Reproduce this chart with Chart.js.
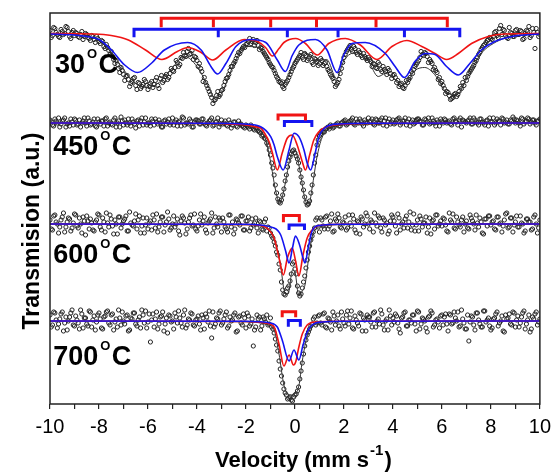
<!DOCTYPE html>
<html>
<head>
<meta charset="utf-8">
<script src="https://cdn.jsdelivr.net/npm/chart.js@4.4.0/dist/chart.umd.min.js"></script>
<style>
  html, body { margin: 0; padding: 0; background: #fff; }
  #chart { display: block; }
</style>
</head>
<body>
<canvas id="chart" width="557" height="472"></canvas>
<script>
// velocity channels (mm/s)
const velocity = [
  -10,-9.9,-9.8,-9.7,-9.6,-9.5,-9.4,-9.3,-9.2,-9.1,-9,
  -8.9,-8.8,-8.7,-8.6,-8.5,-8.4,-8.3,-8.2,-8.1,-8,
  -7.9,-7.8,-7.7,-7.6,-7.5,-7.4,-7.3,-7.2,-7.1,-7,
  -6.9,-6.8,-6.7,-6.6,-6.5,-6.4,-6.3,-6.2,-6.1,-6,
  -5.9,-5.8,-5.7,-5.6,-5.5,-5.4,-5.3,-5.2,-5.1,-5,
  -4.9,-4.8,-4.7,-4.6,-4.5,-4.4,-4.3,-4.2,-4.1,-4,
  -3.9,-3.8,-3.7,-3.6,-3.5,-3.4,-3.3,-3.2,-3.1,-3,
  -2.9,-2.8,-2.7,-2.6,-2.5,-2.4,-2.3,-2.2,-2.1,-2,
  -1.9,-1.8,-1.7,-1.6,-1.5,-1.4,-1.3,-1.2,-1.1,-1,
  -0.9,-0.8,-0.7,-0.6,-0.5,-0.4,-0.3,-0.2,-0.1,0,
  0.1,0.2,0.3,0.4,0.5,0.6,0.7,0.8,0.9,1,
  1.1,1.2,1.3,1.4,1.5,1.6,1.7,1.8,1.9,2,
  2.1,2.2,2.3,2.4,2.5,2.6,2.7,2.8,2.9,3,
  3.1,3.2,3.3,3.4,3.5,3.6,3.7,3.8,3.9,4,
  4.1,4.2,4.3,4.4,4.5,4.6,4.7,4.8,4.9,5,
  5.1,5.2,5.3,5.4,5.5,5.6,5.7,5.8,5.9,6,
  6.1,6.2,6.3,6.4,6.5,6.6,6.7,6.8,6.9,7,
  7.1,7.2,7.3,7.4,7.5,7.6,7.7,7.8,7.9,8,
  8.1,8.2,8.3,8.4,8.5,8.6,8.7,8.8,8.9,9,
  9.1,9.2,9.3,9.4,9.5,9.6,9.7,9.8,9.9,10
];
// the interleaved channels between them
const velocityHalf = [
  -9.95,-9.85,-9.75,-9.65,-9.55,-9.45,-9.35,-9.25,-9.15,-9.05,
  -8.95,-8.85,-8.75,-8.65,-8.55,-8.45,-8.35,-8.25,-8.15,-8.05,
  -7.95,-7.85,-7.75,-7.65,-7.55,-7.45,-7.35,-7.25,-7.15,-7.05,
  -6.95,-6.85,-6.75,-6.65,-6.55,-6.45,-6.35,-6.25,-6.15,-6.05,
  -5.95,-5.85,-5.75,-5.65,-5.55,-5.45,-5.35,-5.25,-5.15,-5.05,
  -4.95,-4.85,-4.75,-4.65,-4.55,-4.45,-4.35,-4.25,-4.15,-4.05,
  -3.95,-3.85,-3.75,-3.65,-3.55,-3.45,-3.35,-3.25,-3.15,-3.05,
  -2.95,-2.85,-2.75,-2.65,-2.55,-2.45,-2.35,-2.25,-2.15,-2.05,
  -1.95,-1.85,-1.75,-1.65,-1.55,-1.45,-1.35,-1.25,-1.15,-1.05,
  -0.95,-0.85,-0.75,-0.65,-0.55,-0.45,-0.35,-0.25,-0.15,-0.05,
  0.05,0.15,0.25,0.35,0.45,0.55,0.65,0.75,0.85,0.95,
  1.05,1.15,1.25,1.35,1.45,1.55,1.65,1.75,1.85,1.95,
  2.05,2.15,2.25,2.35,2.45,2.55,2.65,2.75,2.85,2.95,
  3.05,3.15,3.25,3.35,3.45,3.55,3.65,3.75,3.85,3.95,
  4.05,4.15,4.25,4.35,4.45,4.55,4.65,4.75,4.85,4.95,
  5.05,5.15,5.25,5.35,5.45,5.55,5.65,5.75,5.85,5.95,
  6.05,6.15,6.25,6.35,6.45,6.55,6.65,6.75,6.85,6.95,
  7.05,7.15,7.25,7.35,7.45,7.55,7.65,7.75,7.85,7.95,
  8.05,8.15,8.25,8.35,8.45,8.55,8.65,8.75,8.85,8.95,
  9.05,9.15,9.25,9.35,9.45,9.55,9.65,9.75,9.85,9.95
];

const temperatures = ['30', '450', '600', '700'];
// baseline of each spectrum on the (a.u.) transmission axis
const offsets = [370.5, 281, 180, 83];

// measured transmission relative to baseline (a.u.)
const t30 = [
  3,-2,5,-1,-4,2,0,6,-3,1,-2,
  0,-4,2,-3,-1,-5,-2,-6,-3,-8,
  -7,-13,-11,-17,-18,-26,-27,-35,-34,-41,
  -43,-46,-50,-45,-52,-49,-55,-51,-48,-56,
  -50,-54,-47,-52,-45,-49,-43,-46,-40,-37,
  -34,-29,-31,-25,-22,-18,-21,-17,-23,-27,
  -30,-38,-44,-52,-58,-64,-67,-62,-63,-57,
  -52,-45,-41,-33,-30,-25,-19,-17,-13,-11,
  -8,-10,-6,-9,-12,-14,-18,-22,-26,-31,
  -34,-40,-45,-49,-53,-51,-47,-41,-35,-30,
  -26,-22,-24,-20,-27,-23,-29,-25,-28,-30,
  -27,-30,-33,-38,-43,-48,-51,-46,-35,-24,
  -18,-14,-16,-13,-19,-17,-22,-20,-25,-24,
  -28,-30,-34,-29,-36,-33,-38,-35,-40,-42,
  -44,-47,-51,-54,-52,-49,-44,-40,-33,-29,
  -24,-21,-19,-23,-26,-30,-34,-39,-44,-48,
  -55,-58,-62,-65,-61,-63,-58,-55,-52,-47,
  -40,-36,-32,-27,-21,-16,-12,-9,-6,-5,
  -3,2,-4,8,4,-2,-5,1,-3,3,
  -1,3,-6,0,2,-4,5,-15,1,-1
];
const t30Half = [
  -4,6,1,-3,4,-1,7,2,-5,3,
  1,-3,-1,-6,0,-4,-7,-3,-9,-5,
  -10,-8,-15,-14,-21,-23,-30,-31,-39,-37,
  -47,-42,-53,-48,-44,-56,-50,-53,-46,-52,
  -53,-48,-51,-44,-55,-42,-47,-41,-44,-35,
  -38,-27,-33,-24,-19,-23,-15,-20,-26,-24,
  -33,-35,-48,-49,-55,-61,-70,-66,-58,-61,
  -56,-48,-44,-37,-33,-28,-22,-20,-15,-14,
  -10,-5,-8,-12,-7,-16,-15,-20,-24,-29,
  -33,-37,-43,-48,-50,-55,-49,-44,-38,-33,
  -28,-24,-19,-26,-22,-25,-21,-31,-26,-32,
  -25,-32,-29,-36,-41,-45,-53,-49,-40,-29,
  -21,-16,-12,-18,-15,-21,-19,-24,-23,-27,
  -26,-33,-31,-35,-31,-38,-36,-41,-37,-45,
  -41,-49,-53,-50,-55,-47,-46,-38,-36,-31,
  -27,-18,-22,-20,-29,-28,-36,-37,-46,-50,
  -52,-60,-59,-66,-64,-60,-61,-53,-49,-44,
  -43,-38,-34,-29,-24,-19,-14,-11,-7,-4,
  -6,1,-2,5,-1,3,-4,6,0,-3,
  4,-1,2,-5,3,7,-2,1,5,-3
];
const t450 = [
  3,-2,4,0,-4,2,5,-1,-3,1,4,
  -2,3,0,5,-3,2,-1,4,-4,1,
  2,-3,5,0,-1,3,-4,2,6,-2,
  0,4,-3,1,-5,3,2,-2,5,0,
  -3,2,4,-1,0,-4,3,1,-2,5,
  1,-3,2,6,-2,0,4,-4,1,3,
  -1,4,0,-3,2,5,-2,1,-4,3,
  0,-2,3,-5,1,-3,2,-1,-4,-2,
  -4,-2,-6,-5,-8,-10,-12,-16,-22,-32,
  -45,-62,-76,-80,-72,-58,-44,-34,-28,-30,
  -36,-47,-60,-74,-82,-78,-62,-40,-22,-13,
  -8,-9,-5,-6,-3,-4,-1,-3,0,2,
  -2,1,3,-1,4,0,2,-3,1,5,
  2,-1,4,0,3,-2,5,1,-1,3,
  0,4,-2,2,5,1,-3,3,0,4,
  2,-2,4,1,-1,5,0,3,-3,2,
  4,0,2,-2,5,1,3,-4,2,0,
  3,-1,5,1,-2,4,0,2,-3,1,
  5,0,2,-2,4,1,-1,3,6,0,
  2,-3,4,1,5,-1,3,0,2,4
];
const t450Half = [
  1,-3,2,5,-1,3,-4,0,4,-2,
  3,-1,-4,2,0,5,-2,1,-3,4,
  -1,2,4,-3,1,-2,5,0,-4,2,
  3,-2,0,4,-1,2,-3,5,1,-2,
  0,4,-2,1,3,-4,2,-1,4,0,
  -2,3,1,-3,5,0,-1,2,-4,3,
  2,-1,4,-2,0,3,-3,1,5,-1,
  -1,2,-3,0,-2,1,-4,-1,-3,-5,
  -3,-6,-4,-7,-5,-9,-13,-15,-20,-27,
  -40,-52,-70,-79,-77,-66,-52,-38,-31,-27,
  -33,-40,-54,-67,-79,-81,-70,-52,-32,-17,
  -11,-9,-6,-4,-2,-5,-2,0,-3,1,
  3,-1,2,5,-2,1,4,-1,3,0,
  1,4,-2,3,0,5,2,-3,4,1,
  -1,3,5,0,2,-2,4,1,-1,3,
  4,1,-2,3,5,0,2,-3,1,4,
  0,3,1,-1,4,2,-2,5,3,1,
  2,5,-1,3,0,4,1,-2,3,5,
  1,-2,4,2,5,0,3,-1,2,4,
  3,0,5,-1,2,4,1,3,-2,2
];
const t600 = [
  4,-6,9,0,-3,7,-8,2,5,-4,10,
  -2,6,-9,3,8,-5,1,-7,4,9,
  -6,2,11,-3,5,-10,0,7,-4,3,
  8,-7,1,-2,10,4,-9,6,-1,-5,
  3,9,-4,-8,2,7,-1,12,-6,0,
  -3,5,-11,8,1,-5,6,-2,10,-7,
  4,-1,7,-9,3,11,-4,0,6,-8,
  2,-5,9,-3,-10,5,1,8,-6,3,
  7,-4,-1,6,-9,2,-6,5,-3,-9,
  -14,-22,-31,-46,-66,-71,-64,-57,-40,-45,
  -62,-72,-64,-52,-36,-22,-12,-4,6,-8,
  4,-5,8,-2,10,-7,3,6,-4,1,
  -6,9,-2,5,-9,2,7,-3,11,0,
  4,-8,1,8,-4,6,-1,-10,3,7,
  -2,10,-6,2,5,-4,12,-1,-7,4,
  8,-3,1,-9,6,3,-5,9,0,-2,
  5,-7,11,2,-4,7,-1,4,-8,3,
  -5,6,0,9,-3,2,-10,5,8,-1,
  3,-6,7,1,-2,10,-4,6,-8,2,
  -3,8,0,-7,5,2,-5,9,-9,4
];
const t600Half = [
  -5,8,2,-9,4,11,-3,6,-7,1,
  9,-4,0,7,-11,3,5,-6,2,10,
  -3,6,-8,1,9,-2,4,-10,7,0,
  5,-7,12,-1,3,-5,8,-2,-9,6,
  1,-6,4,10,-3,7,-8,2,5,-4,
  8,0,-7,3,6,-10,2,9,-1,-5,
  -2,10,3,-6,1,5,-9,7,-3,4,
  6,-3,-8,9,2,-5,4,-1,8,-6,
  3,-7,5,1,-4,3,-5,2,-7,-4,
  -12,-18,-28,-40,-58,-70,-68,-62,-50,-38,
  -50,-69,-70,-58,-44,-28,-16,-8,4,-3,
  6,-2,7,-5,3,-8,5,10,-3,2,
  7,-4,1,9,-6,3,-10,5,0,8,
  -5,2,11,-2,6,-8,4,1,-7,9,
  3,-9,6,0,-4,8,2,-6,10,-1,
  -7,5,1,7,-3,-10,4,9,-2,3,
  6,-1,-8,4,10,-5,2,-3,7,0,
  -4,9,3,-6,1,6,-9,5,-2,8,
  2,-5,7,0,-8,4,11,-3,6,-1,
  8,-3,1,-9,5,2,-6,7,0,-4
];
const t700 = [
  6,-4,8,-7,2,9,-2,-9,4,11,-5,
  1,-8,7,3,-3,10,-6,5,-1,8,
  -7,4,9,-2,6,-9,2,11,-4,0,
  5,-10,3,8,-3,1,-7,6,10,-1,
  -21,7,2,-8,4,9,-3,-12,5,0,
  8,-2,3,-6,11,-4,1,7,-5,2,
  -3,6,-8,4,10,-17,-6,3,8,-4,
  2,9,-5,0,6,-11,4,-2,7,-7,
  5,-3,-25,-6,2,-9,4,-1,-4,3,
  -8,-18,-30,-48,-62,-72,-78,-76,-80,-74,
  -70,-58,-42,-25,-14,-8,-3,4,-2,6,
  -4,8,-7,2,-9,5,0,-5,9,-2,
  6,-3,10,-8,1,-5,7,3,-10,4,
  -1,8,-6,2,11,-4,0,-9,5,3,
  7,-2,-12,4,9,-5,1,6,-3,10,
  -8,3,0,-11,5,8,-4,2,-7,6,
  4,-3,7,-3,9,0,-6,11,-2,-8,
  -20,5,-4,8,1,-6,10,-1,3,-9,
  2,7,-5,0,-10,6,3,-3,9,-6,
  5,-2,8,-8,1,-11,4,7,-4,2
];
const t700Half = [
  -6,9,1,-3,7,-10,4,0,8,-4,
  5,-2,11,-7,3,-5,9,1,-9,6,
  2,-8,5,10,-4,7,-1,-6,3,9,
  -3,6,-9,2,8,-5,4,11,-2,-7,
  7,1,-6,9,-3,5,-10,3,6,-1,
  -8,4,10,-2,6,-7,2,8,-4,1,
  5,-9,3,7,-1,-5,9,-3,2,10,
  -2,6,-7,4,1,8,-10,5,-4,3,
  8,-5,2,-9,6,4,-5,2,6,-3,
  -6,-12,-24,-40,-55,-68,-74,-77,-79,-76,
  -73,-66,-50,-33,-19,-11,-5,2,-4,5,
  -2,7,-6,3,-1,9,-4,6,-8,2,
  -5,10,3,-7,5,-2,8,-10,1,6,
  4,-6,9,0,-3,7,-9,2,11,-4,
  -1,5,-8,3,8,-5,1,-2,6,-10,
  9,-3,2,-7,4,10,-6,1,-1,5,
  -4,7,-10,6,-2,3,9,-5,2,-8,
  6,-1,4,-9,8,-3,-6,10,1,-5,
  -7,3,9,-2,5,-11,2,7,-4,8,
  1,-6,4,10,-3,6,-8,2,9,-1
];

// fitted subspectra: [velocity, depth below baseline]
const red30 = [[-10,0],[-8.2,0.5],[-7.5,2],[-6.8,6.5],[-6.1,16.5],[-5.43,26],[-4.8,18],[-4.38,14],[-3.83,19],[-3.36,26.5],[-2.82,16.5],[-2.07,6],[-1.53,8],[-1.2,14],[-0.92,22.5],[-0.65,15],[-0.45,9],[0.03,5],[0.43,10],[0.91,21.5],[1.38,10],[2.06,5],[2.67,11.5],[3.35,26],[3.96,13],[4.57,7],[5.18,13],[5.72,20],[6.19,26],[6.67,20],[7.21,10],[7.89,3],[8.57,0.5],[10,0]];
const blue30 = [[-10,0.5],[-9,1.5],[-8.5,3],[-8,6],[-7.49,16.5],[-6.95,31.5],[-6.43,39],[-5.87,30],[-5.33,16.5],[-4.38,9],[-3.83,16.5],[-3.43,33],[-3.16,40.5],[-2.82,30],[-2.41,13],[-1.8,6],[-1.19,9],[-0.72,26.5],[-0.39,38],[-0.11,22],[0.16,11.5],[0.84,6],[1.31,16.5],[1.72,39],[1.99,21.5],[2.33,10],[2.87,9],[3.69,20],[4.09,33],[4.47,44],[4.9,28],[5.31,20],[5.72,21],[6.19,33],[6.67,41.5],[7.14,30],[7.61,16.5],[8.16,8],[8.97,2.5],[10,0.5]];
const sum30 = [[-10,0.5],[-9,1.5],[-8,7],[-7.5,18.5],[-7,36],[-6.5,50],[-6,54],[-5.5,48],[-5,34],[-4.5,23],[-4,33],[-3.5,55],[-3.25,66],[-3,60],[-2.5,31],[-2,13],[-1.5,14],[-1,31],[-0.7,43],[-0.4,47],[0,27],[0.4,19],[0.9,27],[1.3,26],[1.7,45],[2,27],[2.5,19],[3,28],[3.4,43],[3.7,40],[4.1,46],[4.47,51],[4.9,37],[5.3,34],[5.7,41],[6.2,59],[6.6,61],[7.1,41],[7.6,20],[8.1,10],[8.6,4.5],[9,2.5],[10,0.5]];

const red450 = [[-10,0],[-3,0.5],[-2.6,1],[-2,2],[-1.6,4],[-1.4,5],[-1.22,11],[-1.05,19],[-0.92,30],[-0.72,47],[-0.52,30],[-0.31,15],[-0.11,12],[0.09,22],[0.3,38.7],[0.43,47],[0.6,32],[0.77,17],[0.98,8.7],[1.25,4.3],[1.92,1.3],[3,0.5],[10,0]];
const blue450 = [[-10,0],[-3,0.3],[-2.07,1],[-1.4,3.7],[-0.99,13.7],[-0.85,22],[-0.72,33.7],[-0.48,47],[-0.24,27],[-0.04,10.3],[0.16,13.7],[0.37,27],[0.5,40],[0.64,47],[0.81,32],[0.98,13.7],[1.25,4.3],[1.79,1],[3,0.3],[10,0]];
const sum450 = [[-10,0],[-3,1],[-2,3],[-1.4,9],[-1.2,16],[-1,38],[-0.8,66],[-0.62,80],[-0.4,61],[-0.2,35],[0,27],[0.2,47],[0.4,75],[0.56,83],[0.7,65],[0.9,34],[1.1,15],[1.4,6],[2,2],[3,1],[10,0]];

const red600 = [[-10,0],[-2,0.5],[-1.4,1.5],[-1.1,5],[-0.85,14],[-0.65,34],[-0.47,51],[-0.31,34],[-0.18,26],[-0.11,24],[0.03,37.5],[0.16,52],[0.33,31],[0.5,14],[0.7,6],[0.98,1.5],[2,0.3],[10,0]];
const blue600 = [[-10,0],[-2,0.3],[-0.85,4],[-0.58,11],[-0.38,27],[-0.24,39],[-0.1,24],[0.02,12],[0.19,21],[0.33,34],[0.41,39],[0.54,24],[0.7,7],[0.98,1.5],[2,0.3],[10,0]];
const sum600 = [[-10,0],[-2,0.8],[-1.4,2],[-1,8],[-0.8,19],[-0.6,39],[-0.42,68],[-0.28,70],[-0.1,46],[0,48],[0.16,72],[0.3,67],[0.41,61],[0.55,36],[0.7,13],[1,3],[2,0.6],[10,0]];

const red700 = [[-10,0],[-2,0.5],[-1.2,2],[-0.85,6],[-0.65,23],[-0.45,45],[-0.24,34],[-0.06,44],[0.03,41],[0.16,26],[0.3,13],[0.5,4],[0.84,1],[2,0.3],[10,0]];
const blue700 = [[-10,0],[-2,0.3],[-1,2],[-0.72,6],[-0.52,19],[-0.24,40],[-0.04,29],[0.16,39],[0.33,24],[0.5,11],[0.7,4],[1.11,1],[2,0.3],[10,0]];
const sum700 = [[-10,0],[-2,0.8],[-1.2,3],[-0.85,9],[-0.65,33],[-0.45,64],[-0.24,74],[-0.04,73],[0.16,65],[0.3,40],[0.5,15],[0.7,6],[1,2],[2,0.6],[10,0]];

// line positions marked by the brackets (mm/s)
const red30Lines = [-5.46, -3.33, -0.99, 0.88, 3.31, 6.22];
const blue30Lines = [-6.57, -3.13, -0.31, 1.76, 4.47, 6.73];
const red450Lines = [-0.69, 0.43];
const blue450Lines = [-0.43, 0.69];
const red600Lines = [-0.47, 0.18];
const blue600Lines = [-0.24, 0.39];
const red700Lines = [-0.52, 0.03];
const blue700Lines = [-0.27, 0.22];

const xTicks = [-10, -8, -6, -4, -2, 0, 2, 4, 6, 8, 10];

// ---- layout / style ----
const FONT = '"Liberation Sans", Arial, sans-serif';
const RED = '#f01414';
const BLUE = '#1414f0';

const spectra = [
  { obs: t30, half: t30Half, red: red30, blue: blue30, sum: sum30, redLines: red30Lines, blueLines: blue30Lines },
  { obs: t450, half: t450Half, red: red450, blue: blue450, sum: sum450, redLines: red450Lines, blueLines: blue450Lines },
  { obs: t600, half: t600Half, red: red600, blue: blue600, sum: sum600, redLines: red600Lines, blueLines: blue600Lines },
  { obs: t700, half: t700Half, red: red700, blue: blue700, sum: sum700, redLines: red700Lines, blueLines: blue700Lines }
];
// bracket heights relative to baseline: red top/bottom, blue top/bottom
const bracketStyle = [
  { rt: 15.2, rb: 6.2, bt: 4.2, bb: -3.8 },
  { rt: 8, rb: 2.5, bt: 1.5, bb: -4 },
  { rt: 8.5, rb: 1.7, bt: -1, bb: -6 },
  { rt: 9.3, rb: 3.7, bt: 0.5, bb: -5.7 }
];
// temperature label anchor (velocity, height relative to baseline)
const labelPos = [
  { x: -9.8, y: -39.5 },
  { x: -9.87, y: -32 },
  { x: -9.87, y: -39.3 },
  { x: -9.87, y: -44 }
];

const fitLine = (pts, color, width, order) => ({
  type: 'scatter', data: pts, showLine: true, borderColor: color, borderWidth: width,
  pointRadius: 0, fill: false, cubicInterpolationMode: 'monotone', order: order
});

const bracket = (lines, top, bottom, color) => {
  const pts = [];
  lines.forEach((v, i) => {
    if (i > 0) pts.push({ x: v, y: top });
    pts.push({ x: v, y: bottom });
    pts.push({ x: v, y: top });
  });
  return { type: 'scatter', data: pts, showLine: true, borderColor: color, borderWidth: 3,
    pointRadius: 0, tension: 0, fill: false, borderCapStyle: 'butt', borderJoinStyle: 'miter', order: 0 };
};

const datasets = [];
spectra.forEach((s, i) => {
  const off = offsets[i];
  const pts = s.obs.map((t, k) => ({ x: velocity[k], y: off + t }));
  s.half.forEach((t, k) => pts.push({ x: velocityHalf[k], y: off + t }));
  datasets.push({
    type: 'scatter', data: pts, showLine: false,
    pointRadius: 2.1, pointBorderWidth: 1, pointBorderColor: '#222', borderColor: '#222',
    pointBackgroundColor: 'rgba(0,0,0,0)', backgroundColor: 'rgba(0,0,0,0)', order: 6
  });
  const curve = c => c.map(([v, d]) => ({ x: v, y: off - d }));
  datasets.push(fitLine(curve(s.sum), '#333', 1, 4));
  datasets.push(fitLine(curve(s.red), RED, 1.6, 3));
  datasets.push(fitLine(curve(s.blue), BLUE, 1.6, 2));
  const b = bracketStyle[i];
  datasets.push(bracket(s.redLines, off + b.rt, off + b.rb, RED));
  datasets.push(bracket(s.blueLines, off + b.bt, off + b.bb, BLUE));
});

// frame, temperature labels and axis titles
const decor = {
  id: 'decor',
  afterDraw(chart) {
    const { ctx, chartArea: a, scales: { x, y } } = chart;
    ctx.save();
    ctx.strokeStyle = '#222';
    ctx.lineWidth = 1.5;
    ctx.strokeRect(a.left, a.top, a.right - a.left, a.bottom - a.top);

    ctx.fillStyle = '#000';
    ctx.textBaseline = 'alphabetic';
    ctx.textAlign = 'left';
    temperatures.forEach((t, i) => {
      const px = x.getPixelForValue(labelPos[i].x);
      const py = y.getPixelForValue(offsets[i] + labelPos[i].y);
      ctx.font = `bold 27px ${FONT}`;
      ctx.fillText(t, px, py);
      const w = ctx.measureText(t).width;
      ctx.font = `bold 13px ${FONT}`;
      ctx.fillText('O', px + w + 2, py - 15);
      const ow = ctx.measureText('O').width;
      ctx.font = `bold 27px ${FONT}`;
      ctx.fillText('C', px + w + ow + 3.5, py);
    });

    // x title with superscript
    const tx = a.left + 165, ty = 466.5;
    ctx.font = `bold 22px ${FONT}`;
    const main = 'Velocity (mm s';
    ctx.fillText(main, tx, ty);
    let cx = tx + ctx.measureText(main).width + 1;
    ctx.font = `bold 15px ${FONT}`;
    ctx.fillText('-1', cx, ty - 11.5);
    cx += ctx.measureText('-1').width + 1;
    ctx.font = `bold 22px ${FONT}`;
    ctx.fillText(')', cx, ty);

    // y title
    ctx.translate(a.left - 11, (a.top + a.bottom) / 2 + 22.5);
    ctx.rotate(-Math.PI / 2);
    ctx.textAlign = 'center';
    ctx.font = `bold 23px ${FONT}`;
    ctx.fillText('Transmision (a.u.)', 0, 0);
    ctx.restore();
  }
};

new Chart(document.getElementById('chart'), {
  type: 'scatter',
  data: { datasets },
  options: {
    responsive: false,
    animation: false,
    devicePixelRatio: 1,
    layout: { padding: { left: 0, top: 13, right: 15, bottom: 0 } },
    plugins: { legend: { display: false }, tooltip: { enabled: false } },
    scales: {
      x: {
        type: 'linear', min: -10, max: 10,
        afterFit: s => { s.height = 68; },
        ticks: {
          stepSize: 1, autoSkip: false, maxRotation: 0, padding: 6,
          color: '#000', font: { family: FONT, size: 20 },
          callback: v => xTicks.includes(v) ? String(v) : ''
        },
        grid: { drawOnChartArea: false, tickLength: 5, color: '#222', lineWidth: 1.2 },
        border: { display: false }
      },
      y: {
        type: 'linear', min: 0, max: 391,
        afterFit: s => { s.width = 50; },
        ticks: { display: false },
        grid: { display: false },
        border: { display: false }
      }
    }
  },
  plugins: [decor]
});
</script>
</body>
</html>
